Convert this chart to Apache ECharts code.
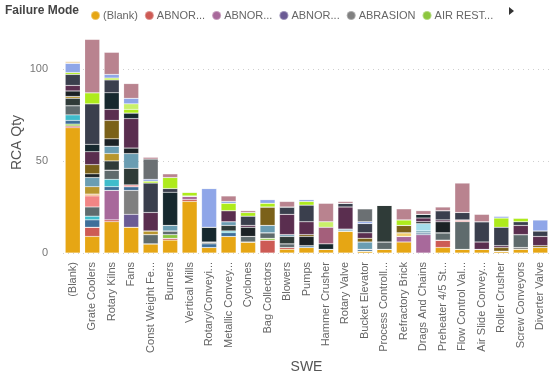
<!DOCTYPE html>
<html>
<head>
<meta charset="utf-8">
<script src="https://cdn.jsdelivr.net/npm/echarts@6/dist/echarts.min.js"></script>
<style>
  html, body { margin: 0; padding: 0; background: #fff; }
  #chart { width: 551px; height: 374px; }
</style>
</head>
<body>
<div id="chart"></div>
<script>
// SWE categories, as shown (Power BI truncates the long ones)
const categories = [
  '(Blank)', 'Grate Coolers', 'Rotary Kilns', 'Fans', 'Const Weight Fe...', 'Burners',
  'Vertical Mills', 'Rotary/Conveyi...', 'Metallic Convey...', 'Cyclones', 'Bag Collectors',
  'Blowers', 'Pumps', 'Hammer Crusher', 'Rotary Valve', 'Bucket Elevator',
  'Process Controll...', 'Refractory Brick', 'Drags And Chains', 'Preheater 4/5 St...',
  'Flow Control Val...', 'Air Slide Convey...', 'Roller Crusher', 'Screw Conveyors', 'Diverter Valve'
];

// RCA Qty per failure mode, one value per category (stack order bottom -> top)
const blank        = [68, 9, 17, 14, 5, 7, 28, 3, 9, 6, 0, 2, 3, 2, 12, 1, 2, 6, 0, 3, 2, 2, 1, 2, 3];
const abnNoise     = [1, 5, 1, 0, 0, 1, 1, 0, 0, 0, 7, 1, 0, 0, 0, 0, 0, 0, 0, 4, 0, 0, 0, 0, 0];
const abnSmell     = [0, 0, 16, 0, 0, 0, 2, 0, 0, 0, 0, 0, 0, 0, 0, 0, 0, 3, 10, 0, 0, 0, 0, 0, 0];
const abnVibration = [0, 0, 0, 7, 0, 0, 0, 0, 0, 0, 0, 0, 0, 0, 0, 0, 0, 0, 0, 0, 0, 0, 0, 0, 0];
const abrasion     = [0, 0, 0, 13, 0, 0, 0, 0, 0, 0, 0, 0, 0, 0, 0, 0, 0, 0, 0, 0, 0, 0, 0, 1, 0];
const airRestr     = [1, 0, 0, 0, 0, 2, 0, 0, 0, 0, 1, 0, 0, 0, 0, 0, 0, 0, 0, 0, 0, 0, 0, 0, 0];
const bearing      = [2, 4, 2, 2, 0, 0, 0, 2, 2, 0, 0, 0, 1, 0, 0, 1, 0, 0, 1, 0, 0, 0, 0, 0, 0];
const beltDamage   = [3, 2, 4, 0, 0, 0, 0, 0, 1, 0, 0, 0, 0, 0, 0, 0, 0, 0, 0, 0, 0, 0, 0, 0, 0];
const blockage     = [5, 5, 5, 0, 5, 2, 0, 1, 0, 3, 3, 2, 0, 0, 0, 0, 4, 0, 0, 4, 15, 0, 0, 7, 0];
const breakage     = [0, 6, 0, 1, 0, 0, 0, 0, 0, 0, 0, 0, 0, 0, 0, 0, 0, 0, 0, 0, 1, 0, 0, 0, 0];
const burnt        = [0, 1, 0, 0, 0, 0, 0, 0, 0, 0, 0, 0, 0, 0, 0, 0, 0, 0, 0, 0, 0, 0, 0, 0, 0];
const calibration  = [0, 0, 0, 0, 0, 0, 0, 0, 0, 0, 0, 0, 0, 0, 0, 0, 0, 2, 0, 0, 0, 0, 0, 0, 0];
const clogging     = [4, 0, 5, 9, 0, 0, 0, 0, 3, 0, 0, 4, 0, 0, 0, 0, 20, 0, 0, 0, 0, 0, 0, 0, 0];
const corrosion    = [1, 4, 4, 0, 2, 0, 0, 0, 0, 0, 0, 0, 0, 0, 0, 0, 0, 0, 0, 0, 0, 0, 0, 0, 0];
const crack        = [0, 5, 4, 8, 0, 3, 0, 0, 2, 0, 4, 1, 0, 0, 1, 4, 0, 0, 1, 0, 0, 0, 0, 0, 0];
const damagedSeal  = [0, 0, 0, 0, 0, 0, 0, 0, 0, 0, 0, 0, 0, 0, 0, 0, 0, 0, 4, 0, 0, 0, 0, 0, 0];
const deformation  = [3, 2, 4, 3, 0, 0, 0, 0, 0, 5, 0, 0, 5, 0, 0, 0, 0, 0, 1, 6, 0, 0, 0, 0, 0];
const design       = [0, 5, 10, 0, 0, 0, 0, 0, 0, 0, 10, 0, 1, 0, 0, 2, 0, 4, 0, 0, 0, 0, 2, 0, 1];
const erosion      = [3, 7, 6, 16, 10, 0, 0, 0, 6, 1, 0, 11, 7, 0, 12, 3, 0, 0, 2, 1, 0, 4, 1, 5, 5];
const fatigue      = [0, 4, 9, 3, 0, 18, 0, 8, 0, 0, 0, 0, 0, 3, 0, 0, 0, 0, 2, 0, 0, 0, 0, 0, 0];
const leakage      = [6, 22, 7, 0, 16, 2, 0, 0, 0, 5, 0, 4, 9, 0, 2, 5, 0, 0, 0, 5, 4, 11, 10, 2, 3];
const linerWear    = [0, 0, 0, 0, 0, 0, 0, 0, 0, 0, 0, 0, 0, 9, 0, 0, 0, 0, 0, 0, 0, 0, 0, 0, 0];
const looseness    = [1, 6, 1, 2, 1, 6, 2, 0, 4, 2, 2, 0, 2, 0, 0, 0, 0, 3, 0, 0, 0, 0, 5, 2, 0];
const lubrication  = [0, 0, 0, 3, 0, 0, 0, 0, 0, 0, 0, 0, 0, 3, 0, 0, 0, 0, 0, 0, 0, 0, 0, 0, 0];
const misalignment = [5, 0, 2, 3, 1, 0, 0, 21, 1, 0, 2, 0, 1, 0, 0, 1, 0, 0, 0, 0, 0, 0, 1, 0, 6];
const notDefined   = [0, 0, 0, 0, 11, 0, 0, 0, 0, 0, 0, 0, 0, 0, 0, 7, 0, 0, 0, 0, 0, 0, 0, 0, 0];
const overheating  = [0, 29, 12, 8, 1, 2, 0, 0, 3, 1, 0, 3, 0, 10, 1, 0, 0, 6, 2, 2, 16, 4, 0, 0, 0];
const wear         = [1, 0, 0, 0, 0, 0, 0, 0, 0, 0, 0, 0, 0, 0, 0, 0, 0, 0, 0, 0, 0, 0, 0, 0, 0];

const failureModes = [
  '(Blank)', 'ABNORMAL NOISE', 'ABNORMAL SMELL', 'ABNORMAL VIBRATION', 'ABRASION', 'AIR RESTRICTION',
  'BEARING FAILURE', 'BELT DAMAGE', 'BLOCKAGE', 'BREAKAGE', 'BURNT', 'CALIBRATION', 'CLOGGING',
  'CORROSION', 'CRACK', 'DAMAGED SEAL', 'DEFORMATION', 'DESIGN', 'EROSION', 'FATIGUE', 'LEAKAGE',
  'LINER WEAR', 'LOOSENESS', 'LUBRICATION', 'MISALIGNMENT', 'NOT DEFINED', 'OVERHEATING', 'WEAR'
];
const modeValues = [
  blank, abnNoise, abnSmell, abnVibration, abrasion, airRestr, bearing, beltDamage, blockage,
  breakage, burnt, calibration, clogging, corrosion, crack, damagedSeal, deformation, design,
  erosion, fatigue, leakage, linerWear, looseness, lubrication, misalignment, notDefined,
  overheating, wear
];
const modeColors = [
  '#E6A614', '#CD5B55', '#A8699B', '#6B5B95', '#808080', '#8CC63E', '#3E6F9A', '#3FBCCB',
  '#5F6B6D', '#F28585', '#F2A25A', '#F2CF6B', '#2F3B38', '#B8962E', '#6A9DB2', '#A5DDEB',
  '#1C2226', '#7B6119', '#5A2E4F', '#16282E', '#3A3F4D', '#A45F7B', '#AEEB1C', '#C9F06A',
  '#8FA6E8', '#6B7073', '#B9838F', '#F0D9B0'
];
// what the legend row shows (truncated by Power BI)
const legendLabels = ['(Blank)', 'ABNOR...', 'ABNOR...', 'ABNOR...', 'ABRASION', 'AIR REST...'];

const font = "'Segoe UI', 'Liberation Sans', sans-serif";
const chart = echarts.init(document.getElementById('chart'));

const option = {
  backgroundColor: '#fff',
  animation: false,
  textStyle: { fontFamily: font },
  grid: { left: 63, right: 1, top: 32, bottom: 121, outerBoundsMode: 'none' },
  legend: {
    data: failureModes.slice(0, 6),
    left: 85,
    top: 5,
    icon: 'circle',
    itemWidth: 9,
    itemHeight: 9,
    itemGap: 6,
    selectedMode: false,
    formatter: (name) => legendLabels[failureModes.indexOf(name)],
    textStyle: { color: '#666', fontSize: 11, fontFamily: font, padding: [0, 0, 0, -2] }
  },
  graphic: [
    {
      type: 'text',
      left: 5,
      top: 5,
      style: { text: 'Failure Mode', fill: '#444', font: 'bold 12px ' + font }
    },
    {
      type: 'polygon',
      shape: { points: [[509, 7], [509, 15], [514, 11]] },
      style: { fill: '#333' }
    }
  ],
  xAxis: {
    type: 'category',
    data: categories,
    name: 'SWE',
    nameLocation: 'middle',
    nameGap: 107,
    nameMoveOverlap: false,
    nameTextStyle: { color: '#555', fontSize: 14, fontFamily: font },
    axisLine: { show: false },
    axisTick: { show: false },
    axisLabel: {
      rotate: 90,
      interval: 0,
      margin: 9,
      color: '#666',
      fontSize: 11,
      fontFamily: font
    }
  },
  yAxis: {
    type: 'value',
    min: 0,
    max: 120,
    interval: 50,
    name: 'RCA Qty',
    nameLocation: 'middle',
    nameGap: 39,
    nameMoveOverlap: false,
    nameTextStyle: { color: '#555', fontSize: 14, fontFamily: font },
    axisLabel: { color: '#777', fontSize: 11, margin: 15, showMaxLabel: false, fontFamily: font },
    splitLine: {
      showMaxLine: false,
      lineStyle: { color: '#cfcfcf', type: [1, 4], width: 1 }
    }
  },
  series: failureModes.map((name, i) => ({
    name: name,
    type: 'bar',
    stack: 'rca',
    barCategoryGap: '23%',
    data: modeValues[i],
    itemStyle: {
      color: modeColors[i],
      borderColor: 'rgba(255,255,255,0.35)',
      borderWidth: 0.5
    }
  }))
};

chart.setOption(option);
</script>
</body>
</html>
